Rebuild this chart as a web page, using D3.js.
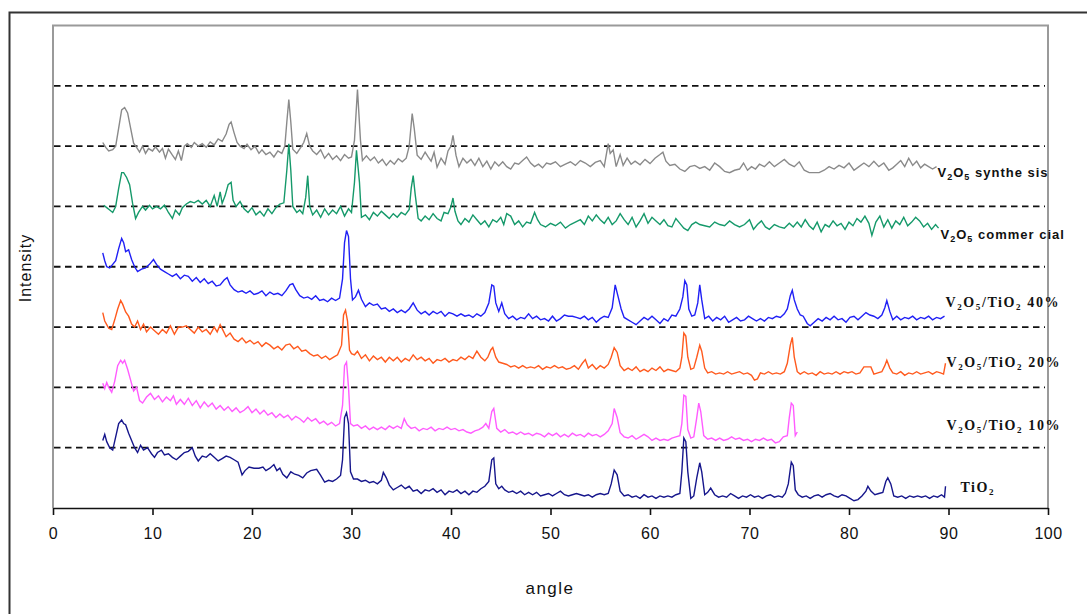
<!DOCTYPE html>
<html><head><meta charset="utf-8">
<script src="https://cdn.jsdelivr.net/npm/d3@7"></script>
<style>body{margin:0;background:#fff;overflow:hidden}</style>
</head><body><svg id="c" width="1087" height="614"></svg>
<script>
// ---------- data ----------
const xTickValues = [0,10,20,30,40,50,60,70,80,90,100];
const gridValues = [100,200,300,400,500,600,700];
const seriesNames = ["V2O5 synthesis","V2O5 commercial","V2O5/TiO2 40%","V2O5/TiO2 20%","V2O5/TiO2 10%","TiO2"];
const labelTexts = ["V_2O_5 synthe sis","V_2O_5 commer cial","V_2O_5/TiO_2 40%","V_2O_5/TiO_2 20%","V_2O_5/TiO_2 10%","TiO_2"];
const labelAngles = [88.9, 89.2, 89.7, 89.8, 89.8, 91.2];
const labelValues = [548, 446, 334, 233, 130, 27];

const synthesis = [[5.0,606],[5.3,598],[5.6,592],[6.0,594],[6.3,600],[6.6,630],[6.9,660],[7.2,664],[7.5,655],[7.8,630],[8.1,605],[8.4,598],[8.7,590],[9.0,600],[9.3,588],[9.6,596],[10.0,592],[10.3,599],[10.7,590],[11.0,596],[11.3,580],[11.6,595],[12.0,585],[12.3,578],[12.6,592],[12.9,576],[13.2,600],[13.5,604],[13.9,598],[14.2,606],[14.6,600],[15.0,604],[15.4,598],[15.8,607],[16.2,602],[16.6,612],[17.0,608],[17.4,620],[17.7,636],[17.9,640],[18.2,622],[18.5,606],[18.8,600],[19.2,596],[19.5,603],[19.9,594],[20.3,600],[20.7,588],[21.0,594],[21.4,586],[21.8,590],[22.2,582],[22.6,592],[23.0,588],[23.3,600],[23.5,640],[23.7,677],[23.9,640],[24.1,595],[24.5,588],[24.9,598],[25.2,606],[25.5,621],[25.8,600],[26.1,592],[26.5,586],[26.9,594],[27.3,580],[27.7,588],[28.1,578],[28.5,584],[28.9,576],[29.3,586],[29.7,580],[30.0,582],[30.3,610],[30.6,694],[30.9,610],[31.1,576],[31.5,584],[31.9,576],[32.3,582],[32.7,572],[33.1,578],[33.5,568],[33.9,576],[34.3,570],[34.7,579],[35.1,574],[35.5,580],[35.8,600],[36.1,654],[36.3,630],[36.6,585],[37.0,578],[37.4,590],[37.7,582],[38.0,575],[38.3,590],[38.6,565],[39.0,580],[39.4,570],[39.7,592],[40.0,600],[40.2,618],[40.5,585],[40.8,566],[41.2,580],[41.6,572],[42.0,578],[42.4,568],[42.8,580],[43.2,566],[43.6,575],[44.0,562],[44.4,574],[44.8,567],[45.2,574],[45.6,566],[46.0,562],[46.4,572],[46.8,570],[47.2,576],[47.6,582],[48.0,572],[48.4,566],[48.8,570],[49.2,564],[49.6,572],[50.0,570],[50.5,574],[51.0,566],[51.5,570],[52.0,574],[52.5,568],[53.0,576],[53.5,572],[54.0,566],[54.5,573],[55.0,576],[55.4,566],[55.8,604],[56.0,588],[56.3,594],[56.6,566],[57.0,586],[57.3,568],[57.7,580],[58.1,570],[58.5,575],[59.0,569],[59.5,578],[60.0,571],[60.5,580],[61.0,586],[61.3,590],[61.6,575],[62.0,568],[62.5,570],[63.0,562],[63.5,558],[64.0,566],[64.5,568],[65.0,563],[65.5,566],[66.0,560],[66.5,572],[67.0,566],[67.5,558],[68.0,556],[68.5,560],[69.0,562],[69.4,572],[69.8,560],[70.2,566],[70.6,562],[71.0,570],[71.5,566],[72.0,574],[72.5,566],[73.0,572],[73.5,578],[74.0,570],[74.5,566],[75.0,574],[75.5,560],[76.0,556],[76.5,556],[77.0,556],[77.5,560],[78.0,566],[78.5,562],[79.0,568],[79.5,564],[80.0,572],[80.5,560],[81.0,566],[81.5,572],[82.0,566],[82.5,575],[83.0,566],[83.5,572],[84.0,560],[84.4,564],[84.8,570],[85.2,576],[85.6,566],[86.0,580],[86.4,568],[86.8,575],[87.2,564],[87.6,570],[88.0,566],[88.4,562],[88.8,566]];

const commercial = [[5.1,502],[5.4,498],[5.7,494],[6.0,490],[6.3,500],[6.6,530],[6.9,556],[7.1,556],[7.4,548],[7.7,536],[8.0,505],[8.3,480],[8.6,490],[9.0,500],[9.3,494],[9.7,502],[10.0,496],[10.4,500],[10.8,496],[11.2,502],[11.6,490],[12.0,480],[12.3,494],[12.7,486],[13.0,498],[13.4,504],[13.8,508],[14.2,506],[14.6,510],[15.0,504],[15.4,510],[15.8,500],[16.2,518],[16.5,500],[16.8,524],[17.0,505],[17.3,518],[17.6,536],[17.9,540],[18.1,510],[18.4,500],[18.8,508],[19.2,496],[19.6,490],[20.0,498],[20.4,486],[20.8,492],[21.2,484],[21.6,496],[22.0,488],[22.4,498],[22.8,504],[23.2,506],[23.5,560],[23.7,604],[23.9,560],[24.1,500],[24.5,490],[24.8,494],[25.1,488],[25.4,515],[25.6,551],[25.8,500],[26.1,486],[26.5,494],[26.9,482],[27.3,496],[27.7,486],[28.1,494],[28.5,488],[28.9,500],[29.3,484],[29.7,496],[30.0,490],[30.3,540],[30.5,593],[30.8,540],[31.0,482],[31.4,486],[31.8,478],[32.2,490],[32.6,484],[33.0,492],[33.4,486],[33.8,480],[34.2,488],[34.6,482],[35.0,490],[35.4,486],[35.8,495],[36.0,530],[36.2,551],[36.4,520],[36.7,480],[37.0,476],[37.4,484],[37.8,478],[38.2,488],[38.6,480],[39.0,476],[39.3,490],[39.7,488],[40.0,500],[40.2,514],[40.4,492],[40.7,476],[41.0,470],[41.4,480],[41.8,474],[42.2,486],[42.6,478],[43.0,470],[43.4,476],[43.8,466],[44.2,478],[44.6,474],[45.0,482],[45.3,470],[45.6,488],[46.0,484],[46.4,470],[46.8,476],[47.2,466],[47.6,474],[48.0,472],[48.4,490],[48.7,478],[49.0,470],[49.5,466],[50.0,472],[50.5,468],[51.0,474],[51.5,464],[52.0,470],[52.5,474],[53.0,478],[53.4,470],[53.8,484],[54.2,476],[54.6,486],[55.0,478],[55.4,472],[55.8,482],[56.2,470],[56.6,476],[57.0,488],[57.4,478],[57.8,470],[58.2,482],[58.6,466],[59.0,476],[59.4,488],[59.8,472],[60.2,482],[60.6,476],[61.0,470],[61.4,478],[61.8,468],[62.2,466],[62.6,480],[63.0,472],[63.4,464],[63.8,460],[64.2,470],[64.6,474],[65.0,470],[65.5,468],[66.0,466],[66.5,474],[67.0,470],[67.5,468],[68.0,476],[68.5,470],[69.0,466],[69.5,470],[70.0,478],[70.4,462],[70.8,470],[71.2,476],[71.6,466],[72.0,462],[72.5,470],[73.0,466],[73.5,464],[74.0,472],[74.4,466],[74.8,474],[75.2,466],[75.6,478],[76.0,468],[76.4,462],[76.8,474],[77.2,458],[77.6,470],[78.0,466],[78.4,476],[78.8,468],[79.2,472],[79.6,462],[80.0,474],[80.4,468],[80.8,480],[81.2,474],[81.6,484],[82.0,472],[82.3,452],[82.7,474],[83.1,484],[83.5,466],[83.9,478],[84.3,464],[84.7,476],[85.1,470],[85.5,482],[85.9,468],[86.3,474],[86.7,482],[87.1,476],[87.5,466],[87.9,472],[88.3,462],[88.7,470],[89.0,464]];

const tio2_40 = [[5.0,423],[5.2,410],[5.4,400],[5.7,398],[6.0,404],[6.3,410],[6.6,430],[6.9,447],[7.1,440],[7.3,425],[7.6,428],[7.9,412],[8.2,400],[8.5,392],[8.9,396],[9.3,398],[9.7,404],[10.1,412],[10.4,404],[10.8,396],[11.2,392],[11.6,388],[12.0,384],[12.4,388],[12.8,380],[13.2,386],[13.6,384],[14.0,376],[14.4,382],[14.8,374],[15.2,380],[15.6,372],[16.0,376],[16.4,368],[16.8,370],[17.2,378],[17.5,382],[17.8,370],[18.2,362],[18.6,358],[19.0,360],[19.4,356],[19.8,360],[20.2,354],[20.6,356],[21.0,360],[21.4,352],[21.8,358],[22.2,354],[22.6,356],[23.0,352],[23.4,360],[23.8,370],[24.1,372],[24.4,362],[24.8,352],[25.2,348],[25.6,350],[26.0,346],[26.4,352],[26.8,344],[27.2,346],[27.6,342],[28.0,348],[28.4,344],[28.8,348],[29.1,380],[29.3,440],[29.5,460],[29.7,450],[29.9,380],[30.1,345],[30.4,350],[30.7,361],[31.0,346],[31.4,334],[31.8,340],[32.2,336],[32.6,338],[33.0,330],[33.4,332],[33.8,326],[34.2,330],[34.6,324],[35.0,328],[35.4,324],[35.8,330],[36.2,340],[36.6,328],[37.0,322],[37.4,326],[37.8,320],[38.2,326],[38.6,322],[39.0,326],[39.4,318],[39.8,324],[40.2,322],[40.6,318],[41.0,322],[41.4,318],[41.8,320],[42.2,316],[42.6,322],[43.0,318],[43.4,324],[43.8,340],[44.1,370],[44.3,368],[44.5,340],[44.8,326],[45.1,340],[45.4,322],[45.8,314],[46.2,318],[46.6,312],[47.0,316],[47.4,314],[47.8,322],[48.2,314],[48.6,318],[49.0,312],[49.4,314],[49.8,310],[50.2,318],[50.6,310],[51.0,314],[51.4,320],[51.8,318],[52.2,318],[52.6,316],[53.0,314],[53.4,318],[53.8,312],[54.2,316],[54.6,308],[55.0,314],[55.4,318],[55.8,316],[56.2,332],[56.5,370],[56.8,350],[57.1,330],[57.4,316],[57.8,312],[58.2,308],[58.6,304],[59.0,310],[59.4,316],[59.8,312],[60.2,318],[60.6,312],[61.0,306],[61.4,314],[61.8,310],[62.2,320],[62.6,318],[63.0,330],[63.3,350],[63.5,377],[63.7,370],[63.9,330],[64.2,318],[64.5,320],[64.8,340],[65.0,370],[65.2,345],[65.5,314],[65.9,318],[66.3,310],[66.7,316],[67.1,312],[67.5,318],[67.9,308],[68.3,312],[68.7,316],[69.1,310],[69.5,312],[69.9,318],[70.3,314],[70.7,310],[71.1,314],[71.5,310],[71.9,316],[72.3,314],[72.7,318],[73.1,316],[73.5,322],[73.8,330],[74.1,352],[74.3,361],[74.5,345],[74.8,330],[75.1,320],[75.4,318],[75.8,306],[76.1,302],[76.5,308],[76.9,314],[77.3,310],[77.7,316],[78.1,312],[78.5,318],[78.9,312],[79.3,314],[79.7,308],[80.1,316],[80.5,318],[80.9,312],[81.3,318],[81.7,324],[82.1,320],[82.5,318],[82.9,314],[83.3,320],[83.6,332],[83.8,344],[84.1,326],[84.4,312],[84.8,318],[85.2,312],[85.6,316],[86.0,314],[86.4,318],[86.8,312],[87.2,316],[87.6,314],[88.0,318],[88.4,312],[88.8,316],[89.2,314],[89.6,318]];

const tio2_20 = [[5.0,324],[5.2,310],[5.4,304],[5.6,298],[5.9,296],[6.2,312],[6.5,330],[6.8,344],[7.0,338],[7.3,325],[7.6,318],[7.9,305],[8.2,300],[8.5,310],[8.8,296],[9.1,305],[9.4,292],[9.8,300],[10.2,294],[10.6,288],[11.0,296],[11.4,290],[11.8,302],[12.2,288],[12.6,300],[13.0,300],[13.4,302],[13.8,296],[14.2,290],[14.6,300],[15.0,292],[15.4,296],[15.8,288],[16.2,300],[16.5,292],[16.8,304],[17.1,294],[17.4,284],[17.8,290],[18.2,280],[18.6,276],[19.0,282],[19.4,274],[19.8,278],[20.2,272],[20.6,276],[21.0,268],[21.4,274],[21.8,270],[22.2,264],[22.6,268],[23.0,262],[23.4,270],[23.8,272],[24.2,264],[24.6,268],[25.0,260],[25.4,262],[25.8,256],[26.2,252],[26.6,254],[27.0,248],[27.4,252],[27.8,246],[28.2,250],[28.6,254],[29.0,270],[29.2,320],[29.4,328],[29.6,310],[29.8,262],[30.0,256],[30.3,254],[30.6,260],[31.0,248],[31.4,254],[31.8,244],[32.2,252],[32.6,246],[33.0,250],[33.4,242],[33.8,250],[34.2,244],[34.6,250],[35.0,242],[35.4,248],[35.8,244],[36.2,254],[36.6,246],[37.0,250],[37.4,244],[37.8,248],[38.2,240],[38.6,246],[39.0,244],[39.4,248],[39.8,242],[40.2,246],[40.6,244],[41.0,250],[41.4,246],[41.8,252],[42.2,248],[42.6,260],[43.0,250],[43.4,244],[43.7,250],[44.0,262],[44.2,266],[44.5,250],[44.8,242],[45.2,240],[45.6,238],[46.0,234],[46.4,236],[46.8,232],[47.2,236],[47.6,232],[48.0,234],[48.4,232],[48.8,236],[49.2,230],[49.6,234],[50.0,232],[50.4,236],[50.8,232],[51.2,234],[51.6,230],[52.0,232],[52.4,236],[52.8,230],[53.2,240],[53.5,246],[53.8,232],[54.2,238],[54.6,230],[55.0,236],[55.4,232],[55.8,238],[56.1,250],[56.4,266],[56.7,258],[57.0,236],[57.4,228],[57.8,232],[58.2,228],[58.6,234],[59.0,226],[59.4,230],[59.8,226],[60.2,232],[60.6,228],[61.0,234],[61.4,226],[61.8,230],[62.2,228],[62.6,226],[63.0,232],[63.2,250],[63.4,290],[63.6,285],[63.8,250],[64.1,230],[64.4,232],[64.7,250],[65.0,270],[65.2,260],[65.5,232],[65.8,224],[66.2,226],[66.6,222],[67.0,224],[67.4,222],[67.8,226],[68.2,222],[68.6,224],[69.0,226],[69.4,222],[69.8,224],[70.2,220],[70.5,212],[70.8,214],[71.1,224],[71.5,222],[71.9,226],[72.3,222],[72.7,224],[73.1,222],[73.5,226],[73.8,240],[74.1,270],[74.3,283],[74.5,250],[74.8,226],[75.1,222],[75.5,226],[75.9,222],[76.3,224],[76.7,220],[77.1,226],[77.5,222],[77.9,224],[78.3,222],[78.7,226],[79.1,222],[79.5,226],[79.9,224],[80.3,226],[80.7,222],[81.1,224],[81.5,234],[82.2,234],[82.5,222],[82.9,224],[83.3,226],[83.6,236],[83.8,245],[84.1,232],[84.4,224],[84.8,222],[85.2,226],[85.6,220],[86.0,224],[86.4,222],[86.8,226],[87.2,222],[87.6,224],[88.0,226],[88.4,222],[88.8,226],[89.2,224],[89.5,222],[89.7,240]];

const tio2_10 = [[5.0,207],[5.2,198],[5.4,208],[5.6,200],[5.9,192],[6.2,210],[6.5,236],[6.8,245],[7.0,240],[7.2,245],[7.5,230],[7.8,212],[8.1,194],[8.4,200],[8.7,178],[9.0,174],[9.4,184],[9.8,190],[10.2,180],[10.6,186],[11.0,176],[11.4,184],[11.8,178],[12.1,186],[12.4,172],[12.8,180],[13.2,172],[13.6,182],[14.0,170],[14.4,178],[14.8,166],[15.2,176],[15.6,168],[16.0,174],[16.4,164],[16.8,170],[17.2,162],[17.6,168],[18.0,160],[18.4,166],[18.8,158],[19.2,162],[19.6,168],[20.0,158],[20.4,164],[20.8,156],[21.2,162],[21.6,154],[22.0,158],[22.4,150],[22.8,156],[23.2,150],[23.6,154],[24.0,146],[24.4,152],[24.8,148],[25.2,142],[25.6,150],[26.0,144],[26.4,148],[26.8,140],[27.2,144],[27.6,138],[28.0,142],[28.4,136],[28.8,140],[29.1,170],[29.3,236],[29.5,242],[29.7,200],[29.9,140],[30.2,136],[30.6,138],[31.0,132],[31.4,136],[31.8,130],[32.2,134],[32.6,130],[33.0,134],[33.4,130],[33.8,136],[34.2,132],[34.6,136],[35.0,132],[35.3,148],[35.6,138],[36.0,132],[36.4,134],[36.8,128],[37.2,132],[37.6,130],[38.0,134],[38.4,128],[38.8,132],[39.2,130],[39.6,134],[40.0,130],[40.4,132],[40.8,128],[41.2,130],[41.6,126],[42.0,124],[42.4,128],[42.8,130],[43.2,134],[43.5,140],[43.8,132],[44.1,160],[44.3,165],[44.6,132],[45.0,126],[45.4,130],[45.8,124],[46.2,126],[46.6,122],[47.0,126],[47.4,122],[47.8,124],[48.2,120],[48.6,124],[49.0,122],[49.4,118],[49.8,124],[50.2,120],[50.6,124],[51.0,118],[51.4,122],[51.8,118],[52.2,124],[52.6,120],[53.0,122],[53.4,118],[53.8,124],[54.2,120],[54.6,122],[55.0,118],[55.4,122],[55.8,128],[56.2,140],[56.4,165],[56.7,150],[57.0,125],[57.4,118],[57.8,116],[58.2,120],[58.6,114],[59.0,118],[59.4,122],[59.8,118],[60.2,112],[60.6,116],[61.0,112],[61.4,114],[61.8,112],[62.2,116],[62.6,118],[63.0,120],[63.2,140],[63.4,187],[63.6,185],[63.8,130],[64.1,116],[64.4,118],[64.7,150],[64.9,174],[65.1,160],[65.4,120],[65.8,114],[66.2,116],[66.6,112],[67.0,116],[67.4,112],[67.8,114],[68.2,118],[68.6,114],[69.0,116],[69.4,112],[69.8,114],[70.2,110],[70.6,114],[71.0,112],[71.4,116],[71.8,112],[72.2,114],[72.6,108],[73.0,110],[73.4,118],[73.8,120],[74.0,150],[74.2,174],[74.4,170],[74.6,120],[74.8,126]];

const tio2 = [[5.0,112],[5.2,122],[5.4,110],[5.7,100],[6.0,96],[6.3,118],[6.6,140],[6.9,146],[7.1,140],[7.3,138],[7.6,124],[7.9,112],[8.2,100],[8.5,92],[8.8,104],[9.1,96],[9.5,100],[9.9,90],[10.2,84],[10.5,92],[10.9,96],[11.2,88],[11.6,90],[12.0,84],[12.4,80],[12.8,86],[13.2,92],[13.6,94],[14.0,100],[14.3,86],[14.6,78],[15.0,86],[15.4,84],[15.8,90],[16.2,84],[16.6,78],[17.0,82],[17.4,86],[17.8,84],[18.2,80],[18.6,76],[19.0,55],[19.3,62],[19.7,68],[20.2,66],[20.7,66],[21.1,68],[21.4,62],[21.8,66],[22.2,72],[22.5,62],[22.8,66],[23.1,56],[23.5,50],[23.9,60],[24.3,56],[24.7,54],[25.1,50],[25.5,58],[25.9,62],[26.5,64],[26.9,54],[27.3,43],[27.7,46],[28.1,44],[28.5,48],[28.9,54],[29.1,80],[29.3,150],[29.5,158],[29.7,140],[29.9,60],[30.2,48],[30.6,48],[31.0,44],[31.4,46],[31.8,42],[32.2,44],[32.6,40],[33.0,46],[33.2,59],[33.5,50],[33.8,38],[34.2,30],[34.6,34],[35.0,38],[35.4,32],[35.8,36],[36.2,28],[36.6,30],[37.0,24],[37.4,30],[37.8,28],[38.2,32],[38.6,26],[39.0,30],[39.4,22],[39.8,28],[40.2,26],[40.6,30],[41.0,24],[41.4,28],[41.8,22],[42.2,28],[42.6,26],[43.0,32],[43.4,36],[43.8,44],[44.1,80],[44.3,83],[44.5,40],[44.8,32],[45.1,36],[45.4,30],[45.8,26],[46.2,28],[46.6,24],[47.0,28],[47.4,22],[47.8,26],[48.2,22],[48.6,26],[49.0,20],[49.4,22],[49.8,24],[50.2,20],[50.6,24],[51.0,28],[51.4,22],[51.8,20],[52.2,22],[52.6,24],[53.0,22],[53.4,20],[53.8,22],[54.2,18],[54.6,22],[55.0,24],[55.4,22],[55.8,24],[56.1,40],[56.4,63],[56.7,55],[57.0,28],[57.4,20],[57.8,22],[58.2,18],[58.6,20],[59.0,16],[59.4,22],[59.8,18],[60.2,20],[60.6,16],[61.0,20],[61.4,18],[61.8,20],[62.2,18],[62.6,22],[63.0,24],[63.2,60],[63.4,116],[63.6,110],[63.8,60],[64.1,16],[64.4,20],[64.7,50],[65.0,75],[65.2,60],[65.5,22],[65.8,26],[66.1,33],[66.5,22],[66.9,18],[67.3,20],[67.7,18],[68.1,24],[68.5,20],[68.9,16],[69.3,20],[69.7,18],[70.1,22],[70.5,18],[70.9,20],[71.3,16],[71.7,20],[72.1,22],[72.5,18],[72.9,20],[73.3,18],[73.6,24],[73.9,40],[74.2,76],[74.4,70],[74.6,30],[74.9,22],[75.3,18],[75.7,20],[76.1,16],[76.5,20],[76.9,22],[77.3,18],[77.7,22],[78.1,24],[78.5,20],[78.9,18],[79.3,22],[79.7,20],[80.1,16],[80.5,12],[80.9,14],[81.3,20],[81.7,28],[81.9,36],[82.2,28],[82.6,22],[83.0,24],[83.4,26],[83.7,44],[83.9,50],[84.2,40],[84.5,20],[84.9,18],[85.3,20],[85.7,16],[86.1,20],[86.5,18],[86.9,20],[87.3,18],[87.7,20],[88.1,16],[88.5,20],[88.9,18],[89.3,22],[89.6,18],[89.7,36]];

const allSeries = [synthesis, commercial, tio2_40, tio2_20, tio2_10, tio2];
const seriesColors = ["#8a8a8a","#15996a","#2020f5","#ff5a1e","#ff5cff","#16168c"];
const labelFonts = ["Liberation Sans, Arial, sans-serif","Liberation Sans, Arial, sans-serif",
  "Liberation Serif, serif","Liberation Serif, serif","Liberation Serif, serif","Liberation Serif, serif"];

// ---------- chart ----------
const svg = d3.select("#c");
const x = d3.scaleLinear().domain([0,100]).range([53,1048]);
const y = d3.scaleLinear().domain([0,800]).range([508,25.5]);

// outer frame
svg.append("rect").attr("x",9.5).attr("y",12.5).attr("width",1200).attr("height",800)
  .attr("fill","none").attr("stroke","#333").attr("stroke-width",2);

// plot frame (gray left/top/right)
svg.append("path")
  .attr("d",`M${x(0)},${y(0)}V${y(800)}H${x(100)}V${y(0)}`)
  .attr("fill","none").attr("stroke","#9a9a9a").attr("stroke-width",2);

// dashed gridlines
svg.append("g").selectAll("line").data(gridValues).join("line")
  .attr("x1",x(0)+1).attr("x2",x(100)-3)
  .attr("y1",d=>y(d)).attr("y2",d=>y(d))
  .attr("stroke","#111").attr("stroke-width",1.8).attr("stroke-dasharray","6.5,4.5");

// series
const line = d3.line().x(d=>x(d[0])).y(d=>y(d[1]));
svg.append("g").selectAll("path").data(allSeries).join("path")
  .attr("d",line).attr("fill","none")
  .attr("stroke",(d,i)=>seriesColors[i]).attr("stroke-width",1.4)
  .attr("stroke-linejoin","miter");

// x axis
const xAxis = d3.axisBottom(x).tickValues(xTickValues).tickSize(7).tickPadding(13).tickSizeOuter(0);
const gx = svg.append("g").attr("transform",`translate(0,${y(0)})`).call(xAxis);
gx.select(".domain").attr("stroke","#111").attr("stroke-width",1.6);
gx.selectAll(".tick line").attr("stroke","#111").attr("stroke-width",1.6);
gx.selectAll(".tick text").attr("font-family","Liberation Sans, Arial, sans-serif")
  .attr("font-size",16).attr("fill","#111").attr("letter-spacing","0.5px");

// axis titles
svg.append("text").attr("x",550).attr("y",594).attr("text-anchor","middle")
  .attr("font-family","Liberation Sans, Arial, sans-serif").attr("font-size",17)
  .attr("letter-spacing","1.5px").attr("fill","#111").text("angle");
svg.append("text").attr("transform","translate(31,268) rotate(-90)").attr("text-anchor","middle")
  .attr("font-family","Liberation Sans, Arial, sans-serif").attr("font-size",16)
  .attr("letter-spacing","1px").attr("fill","#111").text("Intensity");

// series labels with subscripts
const lg = svg.append("g");
labelTexts.forEach((t,i)=>{
  const tx = lg.append("text").attr("x",x(labelAngles[i])).attr("y",y(labelValues[i]))
    .attr("font-family",labelFonts[i]).attr("font-size",i<2?13:14).attr("font-weight","bold")
    .attr("letter-spacing",i<2?"1px":"1.6px").attr("fill","#111");
  let k=0, sub=false;
  while(k<t.length){
    if(t[k]==="_"){ tx.append("tspan").attr("dy",3).attr("font-size",9).text(t[k+1]); sub=true; k+=2; continue; }
    let j=k; while(j<t.length && t[j]!=="_") j++;
    const span = tx.append("tspan").text(t.slice(k,j));
    if(sub){ span.attr("dy",-3); sub=false; }
    k=j;
  }
});
</script>
</body></html>
